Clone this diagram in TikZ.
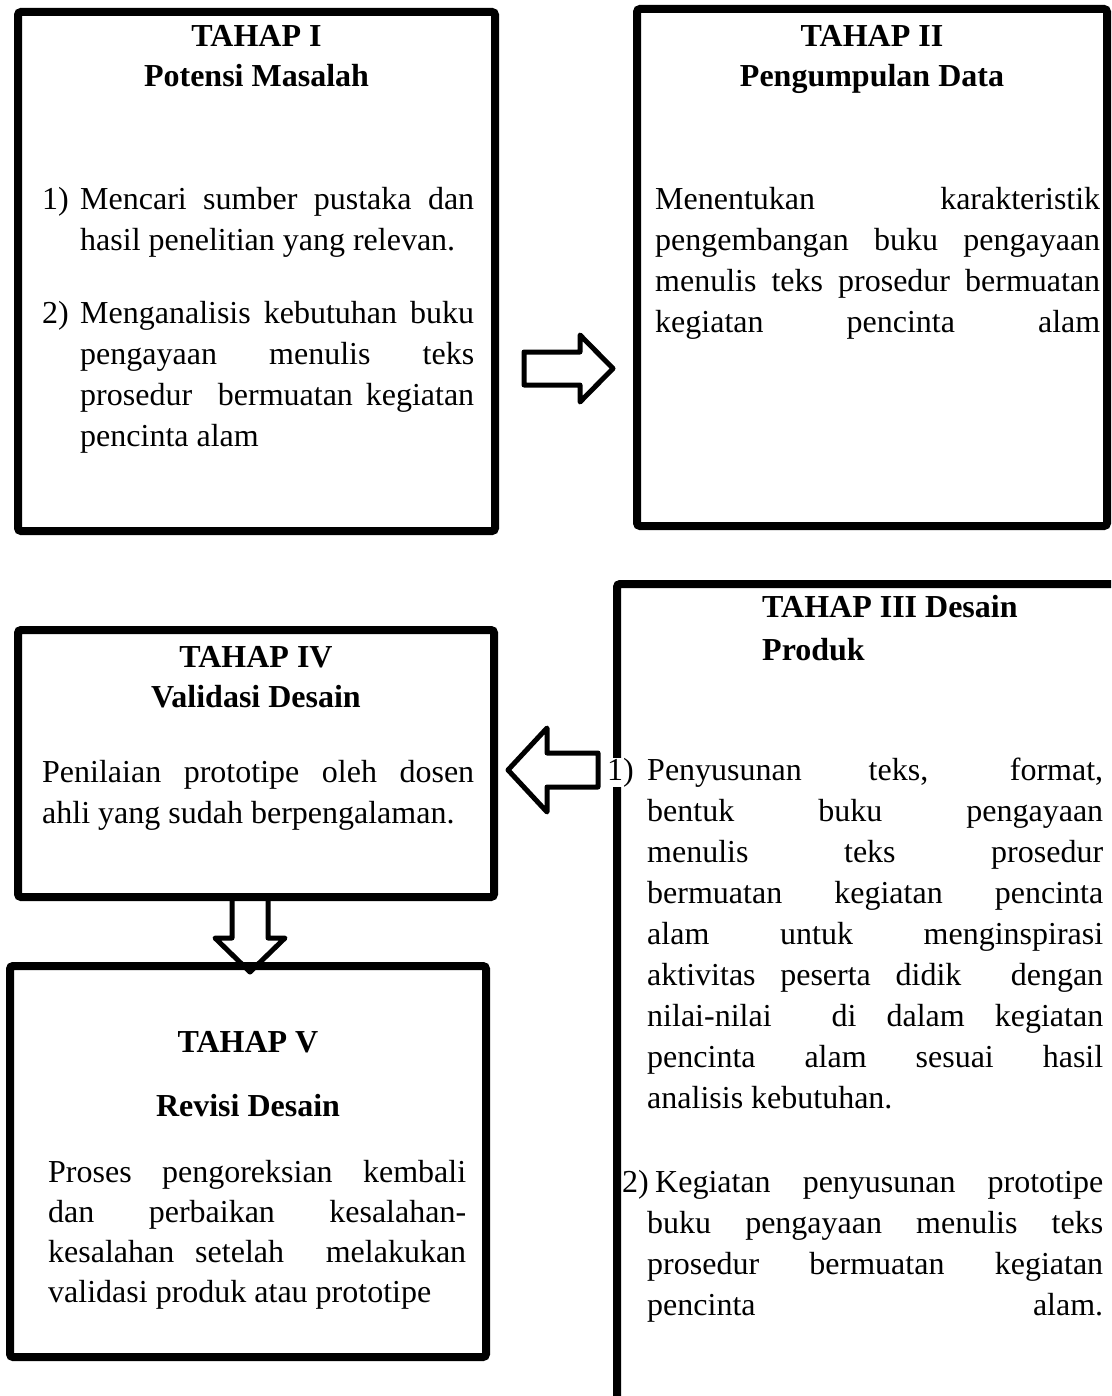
\documentclass[tikz,border=0pt]{standalone}
\usepackage{fontspec}
\setmainfont{Liberation Serif}
\newcommand\JL[2]{\makebox[#1][s]{#2}}
\tikzset{
  stagebox/.style={draw, line width=8pt, rounded corners=3pt, inner sep=0pt},
  blockarrow/.style={draw, line width=5pt, line join=round, fill=white},
  txt/.style={anchor=base west, inner sep=0pt, font=\fontsize{32}{41}\selectfont},
  head/.style={anchor=base, inner sep=0pt, font=\fontsize{32}{41}\selectfont\bfseries},
  headl/.style={anchor=base west, inner sep=0pt, font=\fontsize{32}{41}\selectfont\bfseries},
}
\begin{document}
\begin{tikzpicture}[x=1pt,y=-1pt]
\useasboundingbox (0,0) rectangle (1111,1396);
\clip (0,0) rectangle (1111,1396);

% block arrows
\draw[blockarrow] (524,352) -- (580,352) -- (580,335) -- (613,368.5) -- (580,402) -- (580,385) -- (524,385) -- cycle;
\draw[blockarrow] (598,753) -- (547,753) -- (547,728) -- (508,770) -- (547,812) -- (547,787) -- (598,787) -- cycle;
\draw[blockarrow] (232,897) -- (232,938) -- (215,938) -- (250,972) -- (285,938) -- (268,938) -- (268,897) -- cycle;

% boxes
\node[stagebox, minimum width=477pt, minimum height=519pt] (b1) at (256.5,271.5) {};
\node[stagebox, minimum width=470pt, minimum height=517pt] (b2) at (872,267.5) {};
\node[stagebox, minimum width=499pt, minimum height=821pt] (b3) at (866.5,994.5) {};
\node[stagebox, minimum width=476pt, minimum height=267pt] (b4) at (256,763.5) {};
\node[stagebox, minimum width=476pt, minimum height=391pt] (b5) at (248,1161.5) {};

% TAHAP I
\node[head] (h1a) at (256.5,47) {TAHAP I};
\node[head] (h1b) at (256.5,87) {Potensi Masalah};
\node[txt] (t1) at (42,210) {\vtop{
  \hbox{\makebox[38pt][l]{1)}\JL{394pt}{Mencari sumber pustaka dan}}
  \hbox{\hspace*{38pt}hasil penelitian yang relevan.}
  \vskip32pt
  \hbox{\makebox[38pt][l]{2)}\JL{394pt}{Menganalisis kebutuhan buku}}
  \hbox{\hspace*{38pt}\JL{394pt}{pengayaan menulis teks}}
  \hbox{\hspace*{38pt}\JL{394pt}{prosedur \ bermuatan kegiatan}}
  \hbox{\hspace*{38pt}pencinta alam}}};

% TAHAP II
\node[head] (h2a) at (872,47) {TAHAP II};
\node[head] (h2b) at (872,87) {Pengumpulan Data};
\node[txt] (t2) at (655,210) {\vtop{
  \hbox{\JL{445pt}{Menentukan karakteristik}}
  \hbox{\JL{445pt}{pengembangan buku pengayaan}}
  \hbox{\JL{445pt}{menulis teks prosedur bermuatan}}
  \hbox{\JL{445pt}{kegiatan pencinta alam}}}};

% TAHAP III
\node[headl] (h3a) at (762,617) {TAHAP III Desain};
\node[headl] (h3b) at (762,660) {Produk};
\node[txt] (t3) at (607,780) {\vtop{
  \hbox{\makebox[40pt][l]{{\setlength\fboxsep{0pt}\colorbox{white}{1)}}}\JL{456pt}{Penyusunan teks, format,}}
  \hbox{\hspace*{40pt}\JL{456pt}{bentuk buku pengayaan}}
  \hbox{\hspace*{40pt}\JL{456pt}{menulis teks prosedur}}
  \hbox{\hspace*{40pt}\JL{456pt}{bermuatan kegiatan pencinta}}
  \hbox{\hspace*{40pt}\JL{456pt}{alam untuk menginspirasi}}
  \hbox{\hspace*{40pt}\JL{456pt}{aktivitas peserta didik \ dengan}}
  \hbox{\hspace*{40pt}\JL{456pt}{nilai-nilai \ di dalam kegiatan}}
  \hbox{\hspace*{40pt}\JL{456pt}{pencinta alam sesuai hasil}}
  \hbox{\hspace*{40pt}analisis kebutuhan.}
  \vskip43pt
  \hbox{\hspace*{15pt}\makebox[33pt][l]{2)}\JL{448pt}{Kegiatan penyusunan prototipe}}
  \hbox{\hspace*{40pt}\JL{456pt}{buku pengayaan menulis teks}}
  \hbox{\hspace*{40pt}\JL{456pt}{prosedur bermuatan kegiatan}}
  \hbox{\hspace*{40pt}\JL{456pt}{pencinta alam.}}}};

% TAHAP IV
\node[head] (h4a) at (256,667) {TAHAP IV};
\node[head] (h4b) at (256,707) {Validasi Desain};
\node[txt] (t4) at (42,782) {\vtop{
  \hbox{\JL{432pt}{Penilaian prototipe oleh dosen}}
  \hbox{ahli yang sudah berpengalaman.}}};

% TAHAP V
\node[head] (h5a) at (248,1052) {TAHAP V};
\node[head] (h5b) at (248,1116) {Revisi Desain};
\node[txt] (t5) at (48,1182) {\vtop{\baselineskip=40pt
  \hbox{\JL{418pt}{Proses pengoreksian kembali}}
  \hbox{\JL{418pt}{dan perbaikan kesalahan-}}
  \hbox{\JL{418pt}{kesalahan setelah \ melakukan}}
  \hbox{validasi produk atau prototipe}}};
\end{tikzpicture}
\end{document}
